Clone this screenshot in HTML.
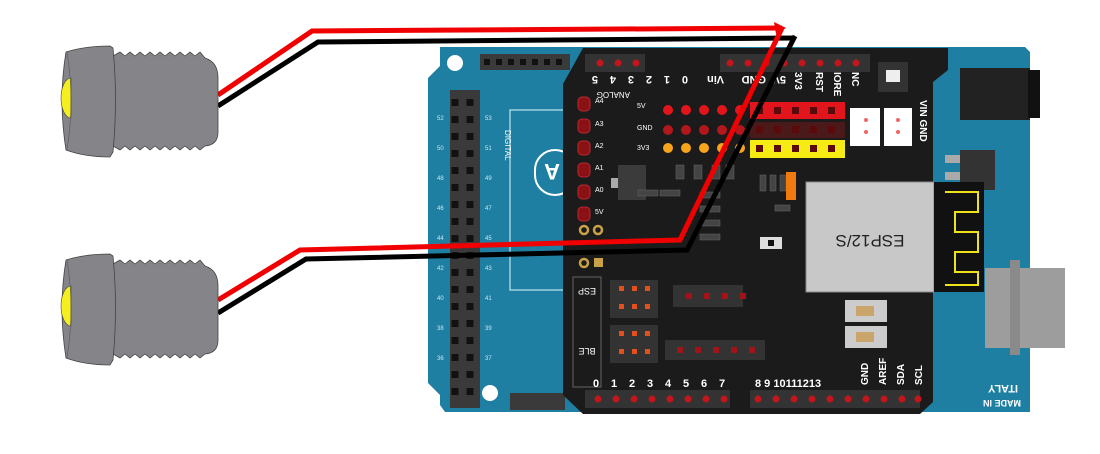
<!DOCTYPE html>
<html><head><meta charset="utf-8"><style>
html,body{margin:0;padding:0;background:#fff;}
svg{display:block}
text{font-family:"Liberation Sans",sans-serif;}
</style></head><body>
<svg width="1100" height="454" viewBox="0 0 1100 454" xmlns="http://www.w3.org/2000/svg">
<defs>
<g id="sensor">
  <path d="M113,56 L120,52 L125,56 L130,52 L135,56 L140,52 L145,56 L150,52 L155,56 L160,52 L165,56 L170,52 L175,56 L180,52 L185,56 L190,52 L195,56 L200,52 L205,58 Q218,62 218,78 L218,132 Q218,145 205,146 L200,150 L195,146 L190,150 L185,146 L180,150 L175,146 L170,150 L165,146 L160,150 L155,146 L150,150 L145,146 L140,150 L135,146 L130,150 L125,146 L120,150 L113,146 Z" fill="#858489" stroke="#444" stroke-width="0.8"/>
  <path d="M66,52 Q85,46 110,46 L113,48 Q118,100 113,152 L110,157 Q85,157 66,150 Q58,100 66,52 Z" fill="#858489" stroke="#444" stroke-width="0.8"/>
  <path d="M71,78 A10,20 0 0 0 71,118 Z" fill="#f5ef1f" stroke="#444" stroke-width="0.6"/>
  <path d="M67,52 Q75,100 67,150" fill="none" stroke="#555" stroke-width="0.6"/>
</g>
</defs>

<path d="M440,47 L1025,47 L1030,52 L1030,412 L445,412 L440,405 L440,395 L428,383 L428,78 L440,66 Z" fill="#1e7fa2"/>
<circle cx="455" cy="63" r="8" fill="#fff"/>
<circle cx="490" cy="393" r="8" fill="#fff"/>
<rect x="480" y="54" width="90" height="16" fill="#3a3a3a"/>
<g fill="#111">
<rect x="484" y="59" width="6" height="6"/><rect x="496" y="59" width="6" height="6"/><rect x="508" y="59" width="6" height="6"/><rect x="520" y="59" width="6" height="6"/><rect x="532" y="59" width="6" height="6"/><rect x="544" y="59" width="6" height="6"/><rect x="556" y="59" width="6" height="6"/>
</g>
<rect x="450" y="90" width="30" height="318" fill="#3a3a3a"/>
<path d="M455,99 L455,405 M470,99 L470,405" stroke="#111" stroke-width="7" stroke-dasharray="7,10"/>
<rect x="510" y="110" width="60" height="180" fill="none" stroke="#9fd0e0" stroke-width="1.5"/>
<rect x="535" y="150" width="40" height="45" rx="20" fill="none" stroke="#fff" stroke-width="2"/>
<text x="540" y="180" font-size="22" fill="#fff" font-weight="bold" transform="rotate(180 550 172)">A</text>
<rect x="510" y="393" width="55" height="17" fill="#3a3a3a"/>
<g font-size="6" fill="#cfe8f0">
<text x="437" y="120">52</text><text x="437" y="150">50</text><text x="437" y="180">48</text><text x="437" y="210">46</text><text x="437" y="240">44</text><text x="437" y="270">42</text><text x="437" y="300">40</text><text x="437" y="330">38</text><text x="437" y="360">36</text>
<text x="485" y="120">53</text><text x="485" y="150">51</text><text x="485" y="180">49</text><text x="485" y="210">47</text><text x="485" y="240">45</text><text x="485" y="270">43</text><text x="485" y="300">41</text><text x="485" y="330">39</text><text x="485" y="360">37</text>
</g>
<text x="505" y="130" font-size="8" fill="#fff" transform="rotate(90 505 130)">DIGITAL</text>
<rect x="960" y="68" width="70" height="52" fill="#222"/>
<rect x="1028" y="70" width="12" height="48" fill="#111"/>
<rect x="960" y="150" width="35" height="40" fill="#333"/>
<rect x="945" y="155" width="15" height="8" fill="#aaa"/>
<rect x="945" y="172" width="15" height="8" fill="#aaa"/>
<rect x="985" y="268" width="80" height="80" fill="#9d9d9d"/>
<rect x="1010" y="260" width="10" height="95" fill="#8a8a8a"/>
<text x="1018" y="395" font-size="11" fill="#fff" transform="rotate(180 1018 390)" font-weight="bold">ITALY</text>
<text x="995" y="410" font-size="9" fill="#fff" transform="rotate(180 1008 405)" font-weight="bold">MADE IN</text>

<path d="M583,48 L948,48 L948,70 L933,82 L933,402 L920,414 L583,414 L563,395 L563,84 Z" fill="#1b1b1b"/>
<rect x="585" y="54" width="60" height="18" fill="#333"/>
<rect x="720" y="54" width="150" height="18" fill="#333"/>
<g fill="#c0161c">
<circle cx="600" cy="63" r="3.5"/><circle cx="618" cy="63" r="3.5"/><circle cx="636" cy="63" r="3.5"/>
<circle cx="730" cy="63" r="3.5"/><circle cx="748" cy="63" r="3.5"/><circle cx="766" cy="63" r="3.5"/><circle cx="784" cy="63" r="3.5"/><circle cx="802" cy="63" r="3.5"/><circle cx="820" cy="63" r="3.5"/><circle cx="838" cy="63" r="3.5"/><circle cx="856" cy="63" r="3.5"/>
</g>
<rect x="878" y="62" width="30" height="30" fill="#333"/>
<rect x="886" y="70" width="14" height="12" fill="#eee"/>
<g font-size="11" fill="#fff" font-weight="bold">
<text x="598" y="84" transform="rotate(180 598 80)">5</text>
<text x="616" y="84" transform="rotate(180 616 80)">4</text>
<text x="634" y="84" transform="rotate(180 634 80)">3</text>
<text x="652" y="84" transform="rotate(180 652 80)">2</text>
<text x="670" y="84" transform="rotate(180 670 80)">1</text>
<text x="688" y="84" transform="rotate(180 688 80)">0</text>
<text x="716" y="84" transform="rotate(180 720 80)">Vin</text>
<text x="758" y="84" transform="rotate(180 762 80)">GND</text>
<text x="778" y="84" transform="rotate(180 782 80)">5V</text>
</g>
<g font-size="10" fill="#fff" font-weight="bold">
<text x="795" y="72" transform="rotate(90 795 72)">3V3</text>
<text x="816" y="72" transform="rotate(90 816 72)">RST</text>
<text x="834" y="72" transform="rotate(90 834 72)">IORE</text>
<text x="852" y="72" transform="rotate(90 852 72)">NC</text>
<text x="920" y="100" transform="rotate(90 920 100)">VIN GND</text>
</g>
<text x="630" y="100" font-size="8" fill="#fff" transform="rotate(180 630 96)">ANALOG</text>
<g fill="#8b1115" stroke="#b52a2e" stroke-width="1">
<rect x="578" y="97" width="12" height="14" rx="4"/><rect x="578" y="119" width="12" height="14" rx="4"/><rect x="578" y="141" width="12" height="14" rx="4"/><rect x="578" y="163" width="12" height="14" rx="4"/><rect x="578" y="185" width="12" height="14" rx="4"/><rect x="578" y="207" width="12" height="14" rx="4"/>
</g>
<g fill="none" stroke="#c9a246" stroke-width="2.5">
<circle cx="584" cy="230" r="4"/><circle cx="598" cy="230" r="4"/><circle cx="584" cy="263" r="4"/>
</g>
<rect x="594" y="258" width="9" height="9" fill="#c9a246"/>
<g font-size="7" fill="#fff">
<text x="595" y="103">A4</text><text x="595" y="126">A3</text><text x="595" y="148">A2</text><text x="595" y="170">A1</text><text x="595" y="192">A0</text><text x="595" y="214">5V</text>
</g>
<g fill="#e2141c">
<circle cx="668" cy="110" r="5"/><circle cx="686" cy="110" r="5"/><circle cx="704" cy="110" r="5"/><circle cx="722" cy="110" r="5"/><circle cx="740" cy="110" r="5"/>
</g>
<g fill="#b2171c">
<circle cx="668" cy="130" r="5"/><circle cx="686" cy="130" r="5"/><circle cx="704" cy="130" r="5"/><circle cx="722" cy="130" r="5"/><circle cx="740" cy="130" r="5"/>
</g>
<g fill="#f6a41a">
<circle cx="668" cy="148" r="5"/><circle cx="686" cy="148" r="5"/><circle cx="704" cy="148" r="5"/><circle cx="722" cy="148" r="5"/><circle cx="740" cy="148" r="5"/>
</g>
<rect x="750" y="102" width="95" height="17" fill="#e2141c"/>
<rect x="750" y="122" width="95" height="16" fill="#4a1a1a"/>
<rect x="750" y="140" width="95" height="18" fill="#f6ec13"/>
<g fill="#5a0a0a">
<rect x="756" y="107" width="7" height="7"/><rect x="774" y="107" width="7" height="7"/><rect x="792" y="107" width="7" height="7"/><rect x="810" y="107" width="7" height="7"/><rect x="828" y="107" width="7" height="7"/>
<rect x="756" y="126" width="7" height="7"/><rect x="774" y="126" width="7" height="7"/><rect x="792" y="126" width="7" height="7"/><rect x="810" y="126" width="7" height="7"/><rect x="828" y="126" width="7" height="7"/>
<rect x="756" y="145" width="7" height="7"/><rect x="774" y="145" width="7" height="7"/><rect x="792" y="145" width="7" height="7"/><rect x="810" y="145" width="7" height="7"/><rect x="828" y="145" width="7" height="7"/>
</g>
<rect x="850" y="108" width="30" height="38" fill="#fff"/>
<rect x="884" y="108" width="28" height="38" fill="#fff"/>
<g fill="#e66"><circle cx="866" cy="120" r="2"/><circle cx="866" cy="132" r="2"/><circle cx="898" cy="120" r="2"/><circle cx="898" cy="132" r="2"/></g>
<g font-size="7" fill="#fff"><text x="637" y="108">5V</text><text x="637" y="130">GND</text><text x="637" y="150">3V3</text></g>
<rect x="618" y="165" width="28" height="35" fill="#3b3b3b"/>
<rect x="611" y="178" width="7" height="10" fill="#aaa"/>
<g fill="#444" stroke="#666" stroke-width="0.5">
<rect x="676" y="165" width="8" height="14"/><rect x="694" y="165" width="8" height="14"/><rect x="712" y="165" width="8" height="14"/><rect x="726" y="165" width="8" height="14"/>
<rect x="760" y="175" width="6" height="16"/><rect x="770" y="175" width="6" height="16"/><rect x="780" y="175" width="6" height="16"/>
<rect x="700" y="192" width="20" height="6"/><rect x="700" y="206" width="20" height="6"/><rect x="700" y="220" width="20" height="6"/><rect x="700" y="234" width="20" height="6"/>
<rect x="638" y="190" width="20" height="6"/><rect x="660" y="190" width="20" height="6"/>
<rect x="775" y="205" width="15" height="6"/>
</g>
<rect x="786" y="172" width="10" height="28" fill="#f07a10"/>
<rect x="760" y="237" width="22" height="12" fill="#ddd"/>
<rect x="768" y="240" width="6" height="6" fill="#111"/>
<rect x="806" y="182" width="128" height="110" fill="#c8c8c8" stroke="#888" stroke-width="1"/>
<text x="870" y="245" font-size="17" fill="#222" text-anchor="middle" transform="rotate(180 870 240)">ESP12/S</text>
<rect x="934" y="182" width="50" height="110" fill="#111"/>
<path d="M945,192 L978,192 L978,212 L955,212 L955,232 L978,232 L978,252 L955,252 L955,272 L978,272 L978,285 L945,285" fill="none" stroke="#f0e21a" stroke-width="2"/>
<rect x="845" y="300" width="42" height="22" fill="#ccc"/><rect x="856" y="306" width="18" height="10" fill="#c9a56b"/>
<rect x="845" y="326" width="42" height="22" fill="#ccc"/><rect x="856" y="332" width="18" height="10" fill="#c9a56b"/>
<rect x="573" y="277" width="28" height="110" fill="none" stroke="#666"/>
<text x="587" y="296" font-size="9" fill="#fff" text-anchor="middle" transform="rotate(180 587 292)">ESP</text>
<text x="587" y="356" font-size="9" fill="#fff" text-anchor="middle" transform="rotate(180 587 352)">BLE</text>
<g fill="#333"><rect x="610" y="280" width="48" height="38"/><rect x="610" y="325" width="48" height="38"/><rect x="673" y="285" width="70" height="22"/><rect x="665" y="340" width="100" height="20"/></g>
<g fill="#e3501c">
<rect x="619" y="286" width="5" height="5"/><rect x="632" y="286" width="5" height="5"/><rect x="645" y="286" width="5" height="5"/>
<rect x="619" y="304" width="5" height="5"/><rect x="632" y="304" width="5" height="5"/><rect x="645" y="304" width="5" height="5"/>
<rect x="619" y="331" width="5" height="5"/><rect x="632" y="331" width="5" height="5"/><rect x="645" y="331" width="5" height="5"/>
<rect x="619" y="349" width="5" height="5"/><rect x="632" y="349" width="5" height="5"/><rect x="645" y="349" width="5" height="5"/>
</g>
<g fill="#a01418"><rect x="686" y="293" width="6" height="6"/><rect x="704" y="293" width="6" height="6"/><rect x="722" y="293" width="6" height="6"/><rect x="740" y="293" width="6" height="6"/>
<rect x="677" y="347" width="6" height="6"/><rect x="695" y="347" width="6" height="6"/><rect x="713" y="347" width="6" height="6"/><rect x="731" y="347" width="6" height="6"/><rect x="749" y="347" width="6" height="6"/></g>
<rect x="585" y="390" width="145" height="18" fill="#333"/>
<rect x="750" y="390" width="170" height="18" fill="#333"/>
<g fill="#c0161c">
<circle cx="598" cy="399" r="3.5"/><circle cx="616" cy="399" r="3.5"/><circle cx="634" cy="399" r="3.5"/><circle cx="652" cy="399" r="3.5"/><circle cx="670" cy="399" r="3.5"/><circle cx="688" cy="399" r="3.5"/><circle cx="706" cy="399" r="3.5"/><circle cx="724" cy="399" r="3.5"/>
<circle cx="758" cy="399" r="3.5"/><circle cx="776" cy="399" r="3.5"/><circle cx="794" cy="399" r="3.5"/><circle cx="812" cy="399" r="3.5"/><circle cx="830" cy="399" r="3.5"/><circle cx="848" cy="399" r="3.5"/><circle cx="866" cy="399" r="3.5"/><circle cx="884" cy="399" r="3.5"/><circle cx="902" cy="399" r="3.5"/><circle cx="918" cy="399" r="3.5"/>
</g>
<g font-size="11" fill="#fff" font-weight="bold">
<text x="593" y="387">0</text><text x="611" y="387">1</text><text x="629" y="387">2</text><text x="647" y="387">3</text><text x="665" y="387">4</text><text x="683" y="387">5</text><text x="701" y="387">6</text><text x="719" y="387">7</text>
<text x="755" y="387">8 9 10111213</text>
</g>
<g font-size="10" fill="#fff" font-weight="bold">
<text x="868" y="385" transform="rotate(-90 868 385)">GND</text>
<text x="886" y="385" transform="rotate(-90 886 385)">AREF</text>
<text x="904" y="385" transform="rotate(-90 904 385)">SDA</text>
<text x="922" y="385" transform="rotate(-90 922 385)">SCL</text>
</g>

<polyline points="218,95 312,31 782,28" fill="none" stroke="#f00000" stroke-width="5"/>
<polyline points="218,106 318,42 795,38" fill="none" stroke="#000" stroke-width="5"/>
<polyline points="782,28 680,240 300,250 218,300" fill="none" stroke="#f00000" stroke-width="5"/>
<polyline points="795,36 687,250 306,259 218,313" fill="none" stroke="#000" stroke-width="5"/>
<path d="M774,22 L786,28 L776,34 Z" fill="#f00000"/>

<use href="#sensor"/>
<use href="#sensor" transform="translate(0,208)"/>
</svg>
</body></html>
